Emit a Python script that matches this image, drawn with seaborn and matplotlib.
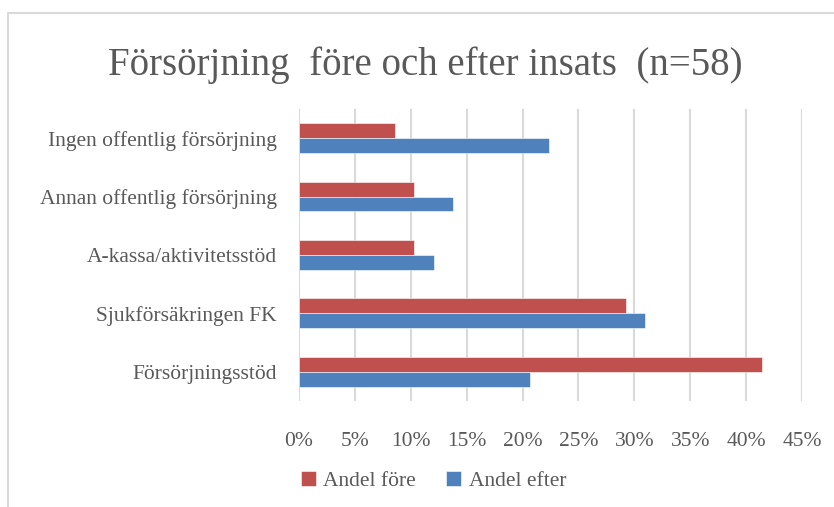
import matplotlib
matplotlib.use('Agg')
from matplotlib import pyplot as plt
from matplotlib.patches import Rectangle
from matplotlib.ticker import PercentFormatter
import pandas as pd
import seaborn as sns

# Data (andel av n=58, i procent)
categories = ['Ingen offentlig försörjning', 'Annan offentlig försörjning',
              'A-kassa/aktivitetsstöd', 'Sjukförsäkringen FK', 'Försörjningsstöd']
andel_fore = [8.6, 10.3, 10.3, 29.3, 41.4]
andel_efter = [22.4, 13.8, 12.1, 31.0, 20.7]
series_names = ['Andel före', 'Andel efter']
x_ticks = [0, 5, 10, 15, 20, 25, 30, 35, 40, 45]

df = pd.DataFrame({
    'Kategori': categories * 2,
    'Serie': [series_names[0]] * len(categories) + [series_names[1]] * len(categories),
    'Andel': andel_fore + andel_efter,
})

color_palette = {'Andel före': '#C0504D', 'Andel efter': '#4F81BD'}
text_color = '#595959'
grid_color = '#D9D9D9'

sns.set_theme(style='white')
plt.rcParams['font.family'] = ['Liberation Serif', 'DejaVu Serif']

fig = plt.figure(figsize=(8.34, 5.07), dpi=100)
ax = fig.add_axes([0.3585, 0.2091, 0.6031, 0.576])

sns.barplot(data=df, y='Kategori', x='Andel', hue='Serie', order=categories,
            hue_order=series_names, palette=color_palette, orient='h', saturation=1,
            width=0.51, edgecolor='white', linewidth=0.4, ax=ax)

ax.set_xlim(0, 45)
ax.set_xticks(x_ticks)
ax.xaxis.set_major_formatter(PercentFormatter(decimals=0))
ax.set_ylim(len(categories) - 0.5, -0.5)
ax.set_xlabel('')
ax.set_ylabel('')

ax.grid(axis='x', color=grid_color, linewidth=1.5)
ax.grid(axis='y', visible=False)
ax.set_axisbelow(True)
for side in ['top', 'right', 'bottom', 'left']:
    ax.spines[side].set_visible(False)

ax.tick_params(axis='x', length=0, pad=22, labelsize=15.5, labelcolor=text_color)
ax.tick_params(axis='y', length=0, pad=16, labelsize=15.5, labelcolor=text_color)

fig.suptitle('Försörjning  före och efter insats  (n=58)', x=0.51, y=0.872,
             fontsize=28, color=text_color, va='center')

# legend under the chart
handles, labels = ax.get_legend_handles_labels()
ax.legend_.remove()
fig.legend(handles, labels, loc='center', bbox_to_anchor=(0.52, 0.051), ncol=2,
           frameon=False, fontsize=15.5, labelcolor=text_color, handlelength=0.7,
           handleheight=0.7, handletextpad=0.35, columnspacing=1.4)

# outer chart border (cut at right and bottom)
fig.patches.append(Rectangle((8 / 834, -0.2), 1.2, 0.2 + 1 - 13 / 507, transform=fig.transFigure,
                             fill=False, edgecolor=grid_color, linewidth=1.5))

fig.savefig('out.png', dpi=100)
